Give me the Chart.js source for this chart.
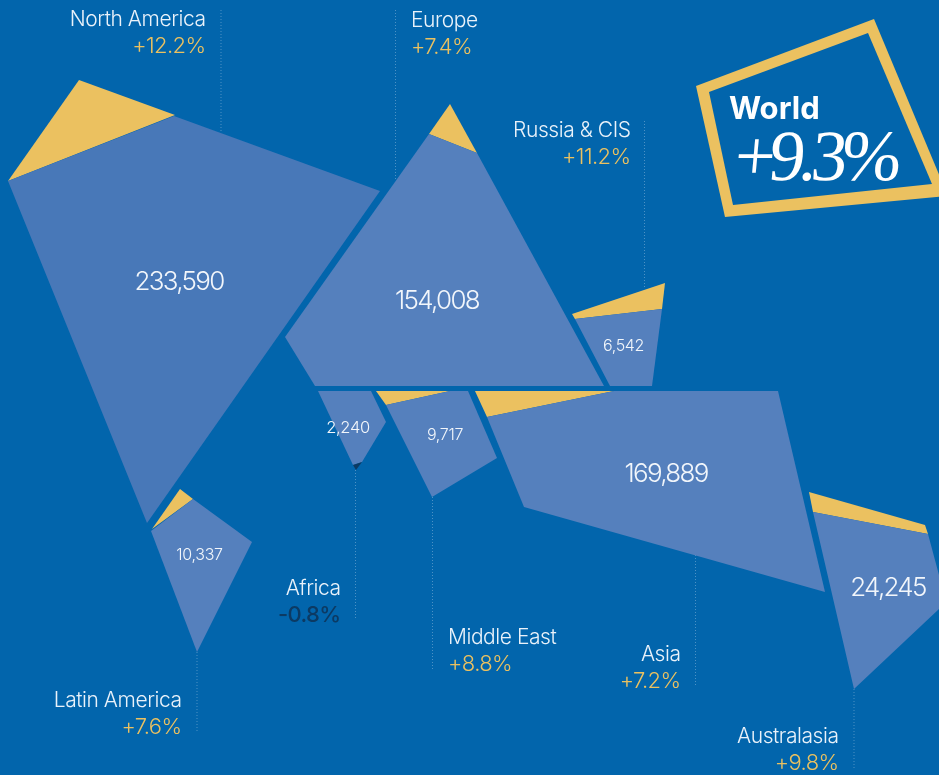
<!DOCTYPE html>
<html><head><meta charset="utf-8">
<style>html,body{margin:0;padding:0;background:#0265ac;overflow:hidden}canvas{display:block}</style>
<script src="https://cdn.jsdelivr.net/npm/chart.js@4"></script>
</head><body><div style="width:939px;height:775px"><canvas id="c"></canvas></div>
<script>
// Region shapes: [x, y] vertices
const northAmerica = [[8,181],[174,116],[380,191],[147,523]];
const northAmericaGrowth = [[8,181],[79,80],[175,115]];
const europe = [[429,134],[477,153],[604,386],[315,386],[285,337]];
const europeGrowth = [[429,134],[450,104],[477,153]];
const russia = [[575,319],[662,309],[652,386],[610,386]];
const russiaGrowth = [[572,314],[665,283],[662,309],[575,319]];
const africa = [[318,391],[371,391],[386,422],[362,462],[353,465]];
const africaDecline = [[353,465],[362,462],[356,470]];
const middleEast = [[386,405],[450,391],[468,391],[497,458],[432,497]];
const middleEastGrowth = [[376,391],[450,391],[386,405]];
const asia = [[487,417],[614,391],[778,391],[825,592],[524,507]];
const asiaGrowth = [[475,391],[614,391],[487,417]];
const australasia = [[813,512],[928,534],[939,575],[939,609],[854,689]];
const australasiaGrowth = [[809,492],[925,525],[928,534],[813,512]];
const latinAmerica = [[151,531],[193,499],[252,542],[197,652]];
const latinAmericaGrowth = [[152,529],[180,489],[193,499]];
const worldFrameOuter = [[696,86],[874,19],[948,196],[725,217]];
const worldFrameInner = [[709,92],[868,33],[932,184],[733,205]];

const regionNames = ['North America','Europe','Russia & CIS','Africa','Middle East','Asia','Australasia','Latin America'];
const growthLabels = ['+12.2%','+7.4%','+11.2%','-0.8%','+8.8%','+7.2%','+9.8%','+7.6%'];
const valueLabels = ['233,590','154,008','6,542','2,240','9,717','169,889','24,245','10,337'];
const worldTitle = 'World';
const worldGrowth = '+9.3%';

// Where the text and leader lines sit
const labelAnchors = [[205.5,20,'right'],[411,21,'left'],[630.5,131,'right'],[340.5,589,'right'],[448,638,'left'],[680.5,655,'right'],[838.5,737,'right'],[181.5,701,'right']];
const valueAnchors = [[179,282,26],[437,301,26],[623.5,346.5,16],[348,428,16.5],[445,435.5,16],[666,474,26],[888,588,26],[199.5,555.5,16]];
const leaders = [[[221,10],[221,132]],[[395.5,10],[395.5,180]],[[644.5,121],[644.5,288]],[[355.5,470],[355.5,620]],[[432.5,497],[432.5,669]],[[695.5,555],[695.5,686]],[[854,689],[854,768]],[[197,652],[197,733]]];

const BG='#0265ac', BLUE='#5580bd', NA_BLUE='#4878b8', GOLD='#ebc160', DARK='#0c3a63';
const pts = a => a.map(([x,y]) => ({x,y}));
const shape = (a,color) => ({data:pts(a.concat([a[0]])),showLine:true,fill:'shape',backgroundColor:color,borderColor:color,borderWidth:0,pointRadius:0,tension:0});
const leader = a => ({data:pts(a),showLine:true,fill:false,borderColor:'rgba(190,215,235,0.4)',borderWidth:1,borderDash:[1,2],pointRadius:0});

const labelPlugin = {id:'labels',afterDatasetsDraw(chart){
  const {ctx,scales:{x,y}} = chart;
  ctx.save(); ctx.textBaseline='middle';
  const FF='Inter,"Liberation Sans",sans-serif';
  regionNames.forEach((n,i)=>{
    const [ax,ay,al] = labelAnchors[i];
    ctx.textAlign=al;
    ctx.font='300 21px '+FF; ctx.letterSpacing='-0.45px'; ctx.fillStyle='#eaf2fa';
    ctx.fillText(n,x.getPixelForValue(ax),y.getPixelForValue(ay));
    const neg = growthLabels[i][0]==='-';
    ctx.font=(neg?'500':'300')+' 22px '+FF; ctx.letterSpacing='-0.6px'; ctx.fillStyle=neg?DARK:GOLD;
    ctx.fillText(growthLabels[i],x.getPixelForValue(ax),y.getPixelForValue(ay+26));
  });
  ctx.textAlign='center'; ctx.fillStyle='#f2f6fb';
  valueLabels.forEach((v,i)=>{
    const [vx,vy,s] = valueAnchors[i];
    ctx.font='300 '+s+'px '+FF; ctx.letterSpacing=(s<20?-0.3:-1.7)+'px';
    ctx.fillText(v,x.getPixelForValue(vx),y.getPixelForValue(vy));
  });
  ctx.textAlign='left'; ctx.fillStyle='#ffffff';
  ctx.font='700 31px '+FF; ctx.letterSpacing='0px'; ctx.fillText(worldTitle,x.getPixelForValue(729),y.getPixelForValue(110));
  // Slightly slanted upright serif, baseline just above the frame's lower edge
  const gx=x.getPixelForValue(733), gy=y.getPixelForValue(180);
  ctx.textBaseline='alphabetic';
  ctx.font='400 72px "Liberation Serif",serif'; ctx.letterSpacing='-6px';
  ctx.transform(1,0,-0.09,1,0.09*gy,0);
  ctx.fillText(worldGrowth,gx,gy);
  ctx.restore();
}};

// Chart.js paints the first dataset last, so the topmost shapes come first
new Chart(document.getElementById('c'),{
  type:'scatter',
  data:{datasets:[
    shape(worldFrameInner,BG),shape(worldFrameOuter,GOLD),
    shape(northAmerica,NA_BLUE),shape(northAmericaGrowth,GOLD),
    shape(europe,BLUE),shape(europeGrowth,GOLD),
    shape(russia,BLUE),shape(russiaGrowth,GOLD),
    shape(africaDecline,DARK),shape(africa,BLUE),
    shape(middleEast,BLUE),shape(middleEastGrowth,GOLD),
    shape(asia,BLUE),shape(asiaGrowth,GOLD),
    shape(australasia,BLUE),shape(australasiaGrowth,GOLD),
    shape(latinAmerica,BLUE),shape(latinAmericaGrowth,GOLD),
    ...leaders.map(leader)
  ]},
  options:{
    responsive:true,maintainAspectRatio:false,animation:false,
    layout:{padding:0},
    plugins:{legend:{display:false},tooltip:{enabled:false},title:{display:false},filler:{drawTime:'beforeDatasetDraw'}},
    scales:{x:{type:'linear',min:0,max:939,display:false},y:{type:'linear',min:0,max:775,reverse:true,display:false}}
  },
  plugins:[labelPlugin]
});
</script></body></html>
